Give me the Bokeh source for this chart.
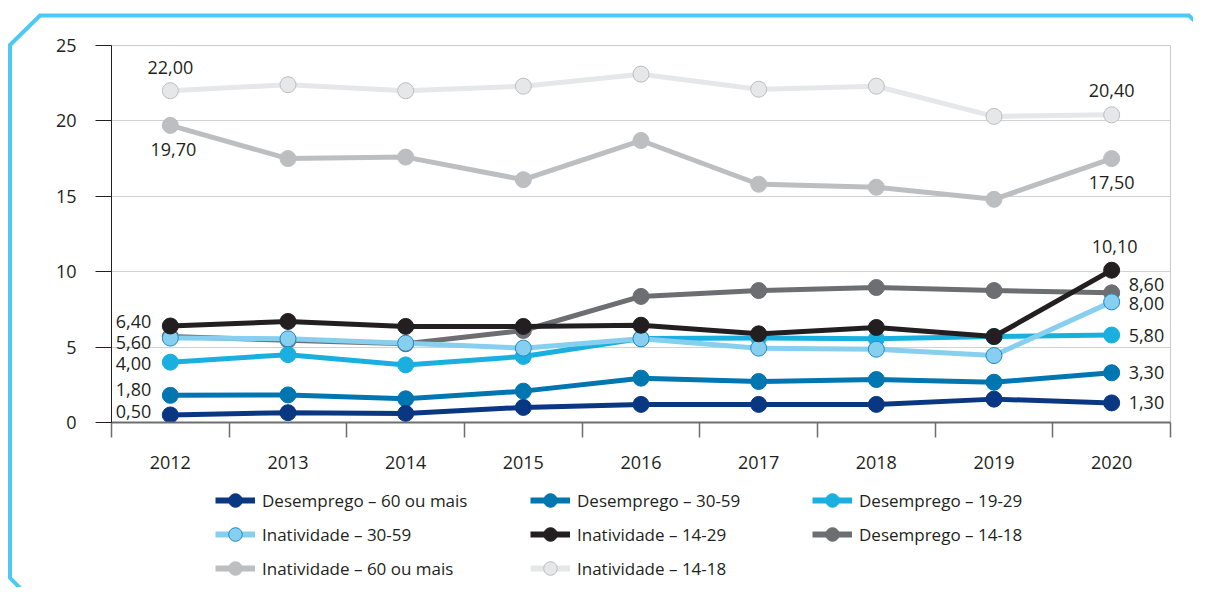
from bokeh.plotting import figure
from bokeh.layouts import column
from bokeh.models import Range1d, FixedTicker, Legend, LegendItem
from bokeh.core.properties import value
from bokeh.embed import file_html
from bokeh.resources import INLINE

# ---- data ----
years = [2012, 2013, 2014, 2015, 2016, 2017, 2018, 2019, 2020]
desemprego_60_mais = [0.5, 0.65, 0.6, 1.0, 1.2, 1.2, 1.2, 1.55, 1.3]
desemprego_30_59 = [1.8, 1.83, 1.57, 2.08, 2.94, 2.72, 2.85, 2.67, 3.3]
desemprego_19_29 = [4.0, 4.5, 3.82, 4.38, 5.57, 5.6, 5.55, 5.7, 5.8]
inatividade_30_59 = [5.6, 5.55, 5.26, 4.93, 5.55, 4.93, 4.86, 4.44, 8.0]
inatividade_14_29 = [6.4, 6.7, 6.37, 6.37, 6.45, 5.88, 6.3, 5.7, 10.1]
desemprego_14_18 = [5.7, 5.45, 5.22, 6.1, 8.36, 8.75, 8.95, 8.75, 8.6]
inatividade_60_mais = [19.7, 17.5, 17.6, 16.1, 18.7, 15.8, 15.6, 14.8, 17.5]
inatividade_14_18 = [22.0, 22.4, 22.0, 22.3, 23.1, 22.1, 22.3, 20.3, 20.4]
y_ticks = [0, 5, 10, 15, 20, 25]

FONT = "Open Sans"
TXT = "#231f20"

# name, values, line colour, marker fill, marker outline
series = {
    "Inatividade – 14-18": (inatividade_14_18, "#e6e7e8", "#e6e7e8", "#bcbec0"),
    "Inatividade – 60 ou mais": (inatividade_60_mais, "#bcbec0", "#bcbec0", "#bcbec0"),
    "Desemprego – 14-18": (desemprego_14_18, "#6d6e71", "#6d6e71", "#6d6e71"),
    "Desemprego – 19-29": (desemprego_19_29, "#19b0df", "#19b0df", "#19b0df"),
    "Inatividade – 30-59": (inatividade_30_59, "#87cfee", "#87cfee", "#1e88c8"),
    "Inatividade – 14-29": (inatividade_14_29, "#231f20", "#231f20", "#231f20"),
    "Desemprego – 30-59": (desemprego_30_59, "#0076b0", "#0076b0", "#0076b0"),
    "Desemprego – 60 ou mais": (desemprego_60_mais, "#0a3782", "#0a3782", "#0a3782"),
}

W, H = 1193, 587
H1 = 480            # chart part
H2 = H - H1         # legend part

p = figure(width=W, height=H1, output_backend="svg", toolbar_location=None,
           x_range=Range1d(2011.5, 2020.5), y_range=Range1d(0, 25),
           min_border_left=111, min_border_right=W - 1170, min_border_top=45,
           min_border_bottom=H1 - 422)
p.outline_line_color = "#c8c8c8"
p.outline_line_width = 1
p.border_fill_color = None
p.background_fill_color = "white"
p.xgrid.grid_line_color = None
p.ygrid.grid_line_color = "#d0d2d3"
p.ygrid.grid_line_width = 1

# x axis
p.xaxis.ticker = FixedTicker(ticks=years, minor_ticks=[y - 0.5 for y in years] + [years[-1] + 0.5])
p.xaxis.major_tick_out = 0
p.xaxis.major_tick_in = 0
p.xaxis.minor_tick_out = 15
p.xaxis.minor_tick_in = 0
p.xaxis.minor_tick_line_color = "#6d6e71"
p.xaxis.minor_tick_line_width = 1.5
p.xaxis.axis_line_color = "#6d6e71"
p.xaxis.axis_line_width = 2
p.xaxis.major_label_standoff = 18
# y axis
p.yaxis.ticker = FixedTicker(ticks=y_ticks)
p.yaxis.major_tick_out = 16
p.yaxis.major_tick_in = 0
p.yaxis.minor_tick_line_color = None
p.yaxis.axis_line_color = TXT
p.yaxis.major_tick_line_color = TXT
p.yaxis.major_label_standoff = 19
for ax in (p.xaxis, p.yaxis):
    ax.major_label_text_font = FONT
    ax.major_label_text_font_size = "18px"
    ax.major_label_text_color = TXT

for name, (vals, lc, fc, oc) in series.items():
    p.line(years, vals, line_color=lc, line_width=5)
    p.scatter(years, vals, size=16, fill_color=fc, line_color=oc, line_width=1)

# ---- value labels ----
def fmt(v):
    return f"{v:.2f}".replace(".", ",")

# (series name, index, x_offset, y_offset, align)
label_specs = [
    ("Inatividade – 14-18", 0, 0, -23, "center"),
    ("Inatividade – 60 ou mais", 0, 3, 24, "center"),
    ("Inatividade – 14-29", 0, -19, -4, "right"),
    ("Inatividade – 30-59", 0, -19, 4, "right"),
    ("Desemprego – 19-29", 0, -19, 1, "right"),
    ("Desemprego – 30-59", 0, -19, -6, "right"),
    ("Desemprego – 60 ou mais", 0, -19, -3, "right"),
    ("Inatividade – 14-18", -1, 0, -24, "center"),
    ("Inatividade – 60 ou mais", -1, 0, 24, "center"),
    ("Inatividade – 14-29", -1, 3, -24, "center"),
    ("Desemprego – 14-18", -1, 17, -8, "left"),
    ("Inatividade – 30-59", -1, 17, 2, "left"),
    ("Desemprego – 19-29", -1, 17, 0, "left"),
    ("Desemprego – 30-59", -1, 17, 0, "left"),
    ("Desemprego – 60 ou mais", -1, 17, 0, "left"),
]
for name, idx, xo, yo, al in label_specs:
    v = series[name][0][idx]
    p.text(x=[years[idx]], y=[v], text=[fmt(v)], x_offset=xo, y_offset=yo,
           text_align=al, text_baseline="middle", text_font=value(FONT),
           text_font_size="18px", text_color=TXT)

# ---- legend strip (separate figure, same series kept outside its view) ----
q = figure(width=W, height=H2, output_backend="svg", toolbar_location=None,
           x_range=Range1d(0, 1), y_range=Range1d(1000, 1001),
           x_axis_type=None, y_axis_type=None,
           min_border_left=0, min_border_right=0, min_border_top=0, min_border_bottom=0)
q.outline_line_color = None
q.border_fill_color = None
q.background_fill_color = None
q.grid.grid_line_color = None

legend_renderers = {}
for name, (vals, lc, fc, oc) in series.items():
    r_line = q.line(years, vals, line_color=lc, line_width=6)
    r_pts = q.scatter(years, vals, size=16, fill_color=fc, line_color=oc, line_width=1)
    legend_renderers[name] = [r_line, r_pts]

columns = [
    ["Desemprego – 60 ou mais", "Inatividade – 30-59", "Inatividade – 60 ou mais"],
    ["Desemprego – 30-59", "Inatividade – 14-29", "Inatividade – 14-18"],
    ["Desemprego – 19-29", "Desemprego – 14-18"],
]
FRAME_LEFT = 111    # the legend strip's frame is aligned with the chart frame
col_x = [215, 530, 812]
ROW = 34
for names, cx in zip(columns, col_x):
    n = len(names)
    h = n * ROW
    lg = Legend(items=[LegendItem(label=nm, renderers=legend_renderers[nm]) for nm in names],
                location=(cx - FRAME_LEFT, H2 - 3 - h), orientation="vertical",
                glyph_width=40, glyph_height=ROW, label_height=20, label_standoff=7,
                spacing=0, padding=0, margin=0,
                label_text_font=FONT, label_text_font_size="17px", label_text_color=TXT,
                border_line_color=None, background_fill_alpha=0)
    q.add_layout(lg, "center")

layout = column(p, q, spacing=0)

# decorative blue frame with cut corners (page styling behind both parts)
frame_svg = ("<svg xmlns='http://www.w3.org/2000/svg' width='%d' height='%d'>"
             "<polygon points='10,45 40,15.5 1189,15.5 1219,45 1219,578 1189,608 40,608 10,578' "
             "fill='white' stroke='%%234dc9f5' stroke-width='4'/></svg>") % (W, H)
layout.styles = {"background-image": 'url("data:image/svg+xml;utf8,' + frame_svg + '")',
                 "background-repeat": "no-repeat"}

open("out.html", "w").write(file_html(layout, INLINE))
